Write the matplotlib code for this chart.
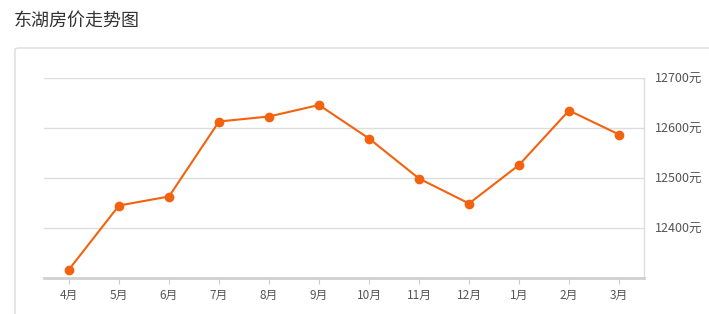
import matplotlib
matplotlib.use('Agg')
import matplotlib.pyplot as plt
from matplotlib.patches import FancyBboxPatch

plt.rcParams['font.family'] = ['Noto Sans CJK SC', 'DejaVu Sans']

title = '东湖房价走势图'
months = ['4月', '5月', '6月', '7月', '8月', '9月', '10月', '11月', '12月', '1月', '2月', '3月']
prices = [12317, 12445, 12463, 12613, 12623, 12646, 12579, 12499, 12449, 12526, 12635, 12587]
y_ticks = [12400, 12500, 12600, 12700]
y_tick_labels = [f'{v}元' for v in y_ticks]

W, H = 709, 314
fig = plt.figure(figsize=(W / 100, H / 100), dpi=100)

# outer panel border
panel = FancyBboxPatch((15 / W, -20 / H), (W + 20) / W, (H - 48 + 20) / H,
                       boxstyle='round,pad=0,rounding_size=0.006',
                       transform=fig.transFigure, facecolor='white',
                       edgecolor='#dcdcdc', linewidth=1.0, zorder=-5)
fig.patches.append(panel)

fig.text(14 / W, 1 - 21 / H, title, fontsize=13, color='#333333', va='center', ha='left')

ax = fig.add_axes([44 / W, 36 / H, 600 / W, 200 / H])
ax.patch.set_alpha(0)
x = list(range(len(months)))
ax.plot(x, prices, color='#f2620f', linewidth=1.5, marker='o', markersize=6, zorder=3,
        clip_on=False)

ax.set_xlim(-0.5, len(months) - 0.5)
ax.set_ylim(12300, 12700)
ax.set_xticks(x)
ax.set_xticklabels(months)
ax.set_yticks(y_ticks)
ax.set_yticklabels(y_tick_labels)
ax.yaxis.tick_right()
ax.grid(axis='y', color='#dddddd', linewidth=1.0)
ax.set_axisbelow(True)

ax.tick_params(axis='y', length=0, pad=8, labelsize=9, labelcolor='#555555')
ax.tick_params(axis='x', length=4, width=0.8, color='#cccccc', pad=4, labelsize=8.5,
               labelcolor='#555555')

for side in ['top', 'left']:
    ax.spines[side].set_visible(False)
ax.spines['right'].set_color('#dddddd')
ax.spines['right'].set_linewidth(1.0)
ax.spines['bottom'].set_color('#d0d0d0')
ax.spines['bottom'].set_linewidth(2.0)

fig.savefig('out.png', dpi=100)
